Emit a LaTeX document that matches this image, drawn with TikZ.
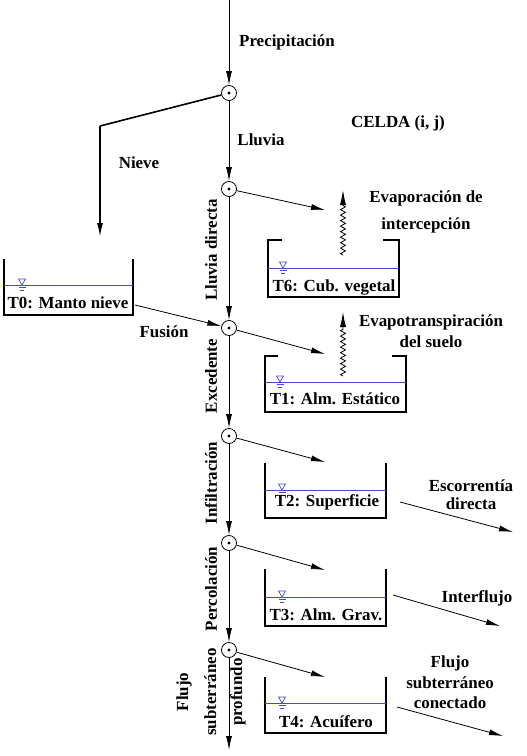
\documentclass[tikz,border=0pt]{standalone}
\usepackage{fontspec}
\setmainfont{Liberation Serif}
\usepackage{xcolor}
\usetikzlibrary{arrows.meta,decorations.pathmorphing}

\definecolor{waterblue}{RGB}{70,70,215}

\begin{document}
\begin{tikzpicture}[x=1bp,y=-1bp,
  font=\fontsize{17}{20}\selectfont\bfseries,
  junction/.style={circle,draw,line width=0.8bp,minimum size=15bp,inner sep=0pt,
    path picture={\fill (path picture bounding box.center) circle (1.7bp);}},
  flow/.style={line width=0.8bp,-{Latex[length=14bp,width=6bp]}},
  snowline/.style={line width=1.6bp},
  tankwall/.style={line width=2.2bp},
  water/.style={draw=waterblue,line width=0.9bp},
  vapour/.style={line width=0.8bp,decorate,
    decoration={zigzag,amplitude=2.5bp,segment length=5.5bp,post length=15bp},
    -{Latex[length=15bp,width=6bp]}},
  wsym/.pic={
    \draw[waterblue,line width=0.7bp] (-3.5,-6) -- (3.5,-6) -- (0,0) -- cycle;
    \draw[waterblue,line width=0.7bp] (-3.5,2.5) -- (3.5,2.5) (-1.8,5) -- (1.8,5);
  }]
\useasboundingbox (0,0) rectangle (527,756);

\coordinate (top) at (229,0);
\node[junction] (j1) at (229,93) {};
\node[junction] (j2) at (229,189) {};
\node[junction] (j3) at (229,328) {};
\node[junction] (j4) at (229,436) {};
\node[junction] (j5) at (229,543) {};
\node[junction] (j6) at (229,650) {};
\coordinate (bottom) at (229,750);

\coordinate (snowbend) at (100,126);
\coordinate (snowend) at (100,237);

\coordinate (e2) at (325,210);
\coordinate (e3) at (325,354);
\coordinate (e4) at (325,462);
\coordinate (e5) at (325,570);
\coordinate (e6) at (325,677);

\coordinate (t0out) at (135,305);
\coordinate (t2out) at (400,502);
\coordinate (t2end) at (513,532);
\coordinate (t3out) at (393,595);
\coordinate (t3end) at (500,626);
\coordinate (t4out) at (397,707);
\coordinate (t4end) at (503,736);

\coordinate (v6a) at (343,255);
\coordinate (v6b) at (343,190);
\coordinate (v1a) at (343,376);
\coordinate (v1b) at (343,312);

% tanks
\draw[tankwall] (4,259) -- (4,315) -- (133,315) -- (133,259);
\draw[water] (4,285) -- (133,285);
\pic at (22,285) {wsym};

\draw[tankwall] (282,240) -- (268,240) -- (268,297) -- (399,297) -- (399,240) -- (383,240);
\draw[water] (268,268) -- (399,268);
\pic at (283,268) {wsym};

\draw[tankwall] (278,356) -- (265,356) -- (265,412) -- (406,412) -- (406,356) -- (392,356);
\draw[water] (265,382) -- (406,382);
\pic at (280,382) {wsym};

\draw[tankwall] (265,463) -- (265,518) -- (386,518) -- (386,463);
\draw[water] (265,490) -- (386,490);
\pic at (282,490) {wsym};

\draw[tankwall] (265,569) -- (265,626) -- (386,626) -- (386,569);
\draw[water] (265,597) -- (386,597);
\pic at (282,597) {wsym};

\draw[tankwall] (265,677) -- (265,733) -- (386,733) -- (386,677);
\draw[water] (265,703) -- (386,703);
\pic at (282,703) {wsym};

\node (t0) at (68,303) {T0: Manto nieve};
\node (t6) at (334,287) {T6: Cub. vegetal};
\node (t1) at (335,399) {T1: Alm. Estático};
\node (t2) at (327,502) {T2: Superficie};
\node (t3) at (326,615) {T3: Alm. Grav.};
\node (t4) at (326,722) {T4: Acuífero};

% labels
\node (precip) at (287,42) {Precipitación};
\node (celda) at (398,123) {CELDA (i, j)};
\node (lluvia) at (261,140) {Lluvia};
\node (nieve) at (139,163) {Nieve};
\node (fusion) at (164,332) {Fusión};
\node[align=center] (evapint) at (426,212) {Evaporación de\\[7bp]intercepción};
\node[align=center] (evapsue) at (431,331) {Evapotranspiración\\[1bp]del suelo};
\node[align=center] (escorr) at (471,495) {Escorrentía\\[-2bp]directa};
\node (interf) at (477,598) {Interflujo};
\node[align=center] (flujocon) at (450,682) {Flujo\\[1bp]subterráneo\\[0bp]conectado};

\node[rotate=90] (lluviad) at (211,250) {Lluvia directa};
\node[rotate=90] (exced) at (211,376) {Excedente};
\node[rotate=90] (infil) at (211,483) {Infiltración};
\node[rotate=90] (percol) at (211,589) {Percolación};
\node[rotate=90,align=center] (flujoprof) at (211,692) {Flujo\\[8bp]subterráneo\\[6bp]profundo};

% flows
\draw[flow] (top) -- (j1);
\draw[flow] (j1) -- (j2);
\draw[flow] (j2) -- (j3);
\draw[flow] (j3) -- (j4);
\draw[flow] (j4) -- (j5);
\draw[flow] (j5) -- (j6);
\draw[flow] (j6) -- (bottom);

\draw[snowline] (j1) -- (snowbend);
\draw[snowline,-{Latex[length=14bp,width=6bp]}] (snowbend) -- (snowend);

\draw[flow] (j2) -- (e2);
\draw[flow] (j3) -- (e3);
\draw[flow] (j4) -- (e4);
\draw[flow] (j5) -- (e5);
\draw[flow] (j6) -- (e6);

\draw[flow] (t0out) -- (j3);
\draw[flow] (t2out) -- (t2end);
\draw[flow] (t3out) -- (t3end);
\draw[flow] (t4out) -- (t4end);

\draw[vapour] (v6a) -- (v6b);
\draw[vapour] (v1a) -- (v1b);

\end{tikzpicture}
\end{document}
